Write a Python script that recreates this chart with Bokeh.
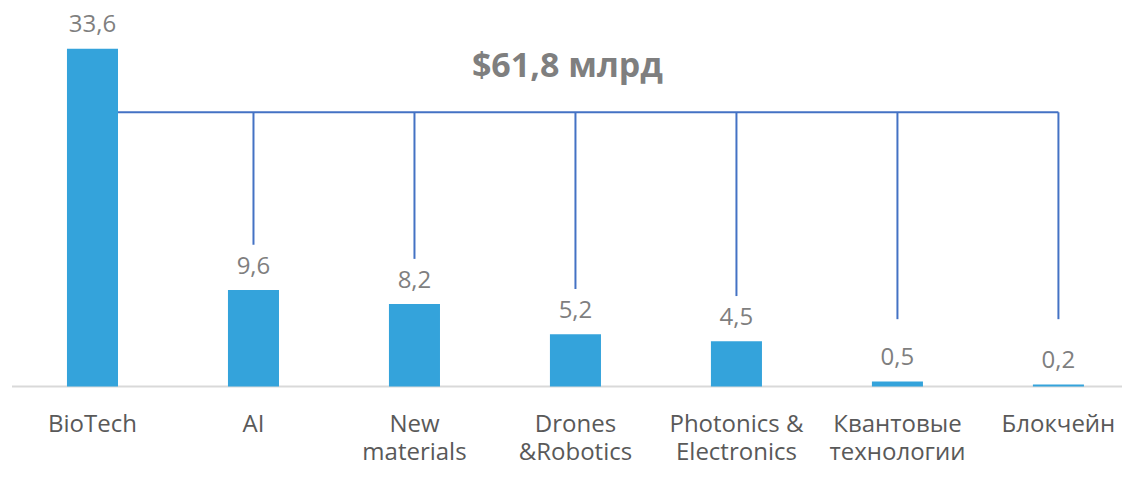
from bokeh.plotting import figure
from bokeh.models import Range1d, ColumnDataSource, Label
from bokeh.embed import file_html
from bokeh.resources import INLINE
from bokeh.core.properties import value

categories = ["BioTech", "AI", "New\nmaterials", "Drones\n&Robotics",
              "Photonics &\nElectronics", "Квантовые\nтехнологии", "Блокчейн"]
values = [33.6, 9.6, 8.2, 5.2, 4.5, 0.5, 0.2]
value_labels = ["33,6", "9,6", "8,2", "5,2", "4,5", "0,5", "0,2"]
total_label = "$61,8 млрд"

FONT = "Open Sans"
BAR_W = 0.317
BRACKET_Y = 27.3

xs = list(range(len(categories)))
src = ColumnDataSource(dict(x=xs, top=values, lab=value_labels,
                            cat=categories, zero=[0] * len(xs)))

p = figure(width=1122, height=466, output_backend="svg", toolbar_location=None,
           x_range=Range1d(-0.5714, 6.398), y_range=Range1d(-7.96, 38.41),
           min_border_left=0, min_border_right=0, min_border_top=0, min_border_bottom=0)
p.outline_line_color = None
p.background_fill_color = "white"
p.border_fill_color = "white"
p.grid.visible = False
p.axis.visible = False

# baseline
p.segment(x0=[-0.5], y0=[0], x1=[6.5], y1=[0],
          line_color="#d9d9d9", line_width=2)

p.vbar(x="x", top="top", width=BAR_W, bottom=0, source=src,
       fill_color="#34A3DB", line_color=None)

p.text(x="x", y="top", text="lab", source=src, text_align="center",
       text_baseline="middle", y_offset=-25, text_font=value(FONT),
       text_font_size="24px", text_color="#7f7f7f")

# category labels
p.text(x="x", y="zero", text="cat", source=src, text_align="center",
       text_baseline="top", y_offset=19, text_font=value(FONT),
       text_font_size="24px", text_color="#595959", text_line_height=0.872)

# bracket
p.segment(x0=[BAR_W / 2], y0=[BRACKET_Y], x1=[xs[-1]], y1=[BRACKET_Y],
          line_color="#4472C4", line_width=2)
vx = xs[1:]
vy1 = [max(v, 2.2) + 4.5 for v in values[1:]]
p.segment(x0=vx, y0=[BRACKET_Y] * len(vx), x1=vx, y1=vy1,
          line_color="#4472C4", line_width=2)

p.add_layout(Label(x=2.95, y=32.06, text=total_label, text_align="center",
                   text_baseline="middle", text_font=FONT, text_font_size="34px",
                   text_font_style="bold", text_color="#7f7f7f"))

open("out.html", "w").write(file_html(p, INLINE))
